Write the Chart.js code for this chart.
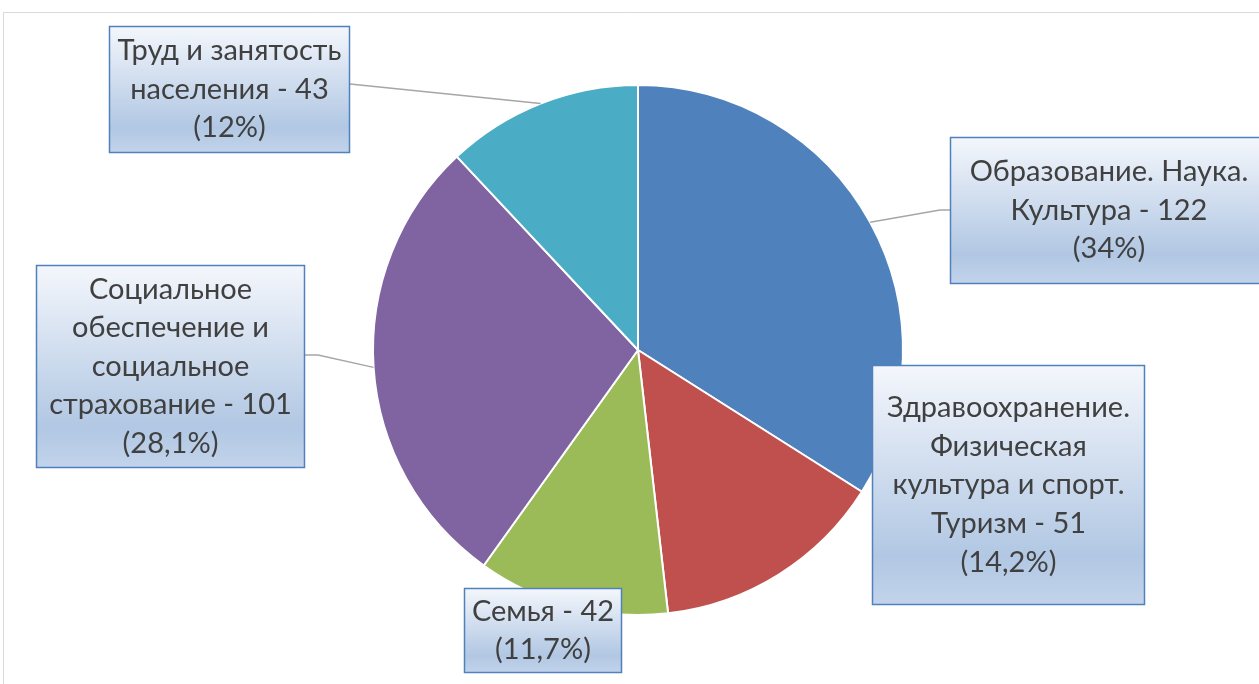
<!DOCTYPE html>
<html lang="ru">
<head>
<meta charset="UTF-8">
<title>Pie</title>
<script src="https://cdn.jsdelivr.net/npm/chart.js"></script>
<style>
  html, body { margin: 0; padding: 0; background: #fff; overflow: hidden; }
  #wrap { position: relative; width: 1259px; height: 684px; }
</style>
</head>
<body>
<div id="wrap"><canvas id="myChart" width="1259" height="684"></canvas></div>
<script>
// data
const categories = [
    ["Образование. Наука.", "Культура"],
    ["Здравоохранение.", "Физическая", "культура и спорт.", "Туризм"],
    ["Семья"],
    ["Социальное", "обеспечение и", "социальное", "страхование"],
    ["Труд и занятость", "населения"]
];
const values = [122, 51, 42, 101, 43];
const percents = ["34%", "14,2%", "11,7%", "28,1%", "12%"];
const colors = ["#4F81BD", "#C0504D", "#9BBB59", "#8064A2", "#4BACC6"];

// label boxes (x, y, w, h) and where the leader line meets the box
const boxes = [
    {x: 950, y: 137, w: 318, h: 147, lead: [[950, 210], [940, 210]]},
    {x: 872, y: 365, w: 273, h: 240, lead: null},
    {x: 464, y: 588, w: 158, h: 85, lead: null},
    {x: 36, y: 265, w: 269, h: 203, lead: [[305, 355], [318, 355]]},
    {x: 109, y: 26, w: 241, h: 127, lead: [[350, 84]]}
];

const labelPlugin = {
    id: "labelBoxes",
    beforeDraw(chart) {
        const ctx = chart.ctx;
        ctx.save();
        ctx.strokeStyle = "#D9D9D9";
        ctx.lineWidth = 1;
        ctx.beginPath();
        ctx.moveTo(3.5, 690);
        ctx.lineTo(3.5, 12.5);
        ctx.lineTo(1270, 12.5);
        ctx.stroke();
        ctx.restore();
    },
    afterDraw(chart) {
        const ctx = chart.ctx;
        const arcs = chart.getDatasetMeta(0).data;
        ctx.save();
        // leader lines
        ctx.strokeStyle = "#A6A6A6";
        ctx.lineWidth = 1.5;
        boxes.forEach((b, i) => {
            if (!b.lead) return;
            const a = arcs[i];
            const mid = (a.startAngle + a.endAngle) / 2;
            const px = a.x + Math.cos(mid) * a.outerRadius;
            const py = a.y + Math.sin(mid) * a.outerRadius;
            ctx.beginPath();
            ctx.moveTo(b.lead[0][0], b.lead[0][1]);
            for (let k = 1; k < b.lead.length; k++) ctx.lineTo(b.lead[k][0], b.lead[k][1]);
            ctx.lineTo(px, py);
            ctx.stroke();
        });
        // boxes
        boxes.forEach((b, i) => {
            const g = ctx.createLinearGradient(0, b.y, 0, b.y + b.h);
            g.addColorStop(0, "#F4F7FC");
            g.addColorStop(0.8, "#B1C7E3");
            g.addColorStop(1, "#C3D4EB");
            ctx.fillStyle = g;
            ctx.fillRect(b.x, b.y, b.w, b.h);
            ctx.strokeStyle = "#4F81BD";
            ctx.lineWidth = 1.5;
            ctx.strokeRect(b.x + 0.5, b.y + 0.5, b.w - 1, b.h - 1);

            const lines = categories[i].slice();
            lines[lines.length - 1] += " - " + values[i];
            lines.push("(" + percents[i] + ")");
            const lh = 38.6;
            const cx = b.x + b.w / 2;
            const top = b.y + b.h / 2 - (lines.length - 1) * lh / 2;
            ctx.fillStyle = "#404040";
            ctx.font = "29px Lato";
            ctx.textAlign = "center";
            ctx.textBaseline = "middle";
            lines.forEach((t, k) => ctx.fillText(t, cx, top + k * lh));
        });
        ctx.restore();
    }
};

const ctx = document.getElementById("myChart").getContext("2d");
new Chart(ctx, {
    type: "pie",
    data: {
        labels: categories,
        datasets: [{
            data: values,
            backgroundColor: colors,
            borderColor: "#FFFFFF",
            borderWidth: 2
        }]
    },
    options: {
        responsive: false,
        animation: false,
        layout: {padding: {top: 84, bottom: 68, left: 372, right: 355}},
        plugins: {
            legend: {display: false},
            tooltip: {enabled: false}
        }
    },
    plugins: [labelPlugin]
});
</script>
</body>
</html>
